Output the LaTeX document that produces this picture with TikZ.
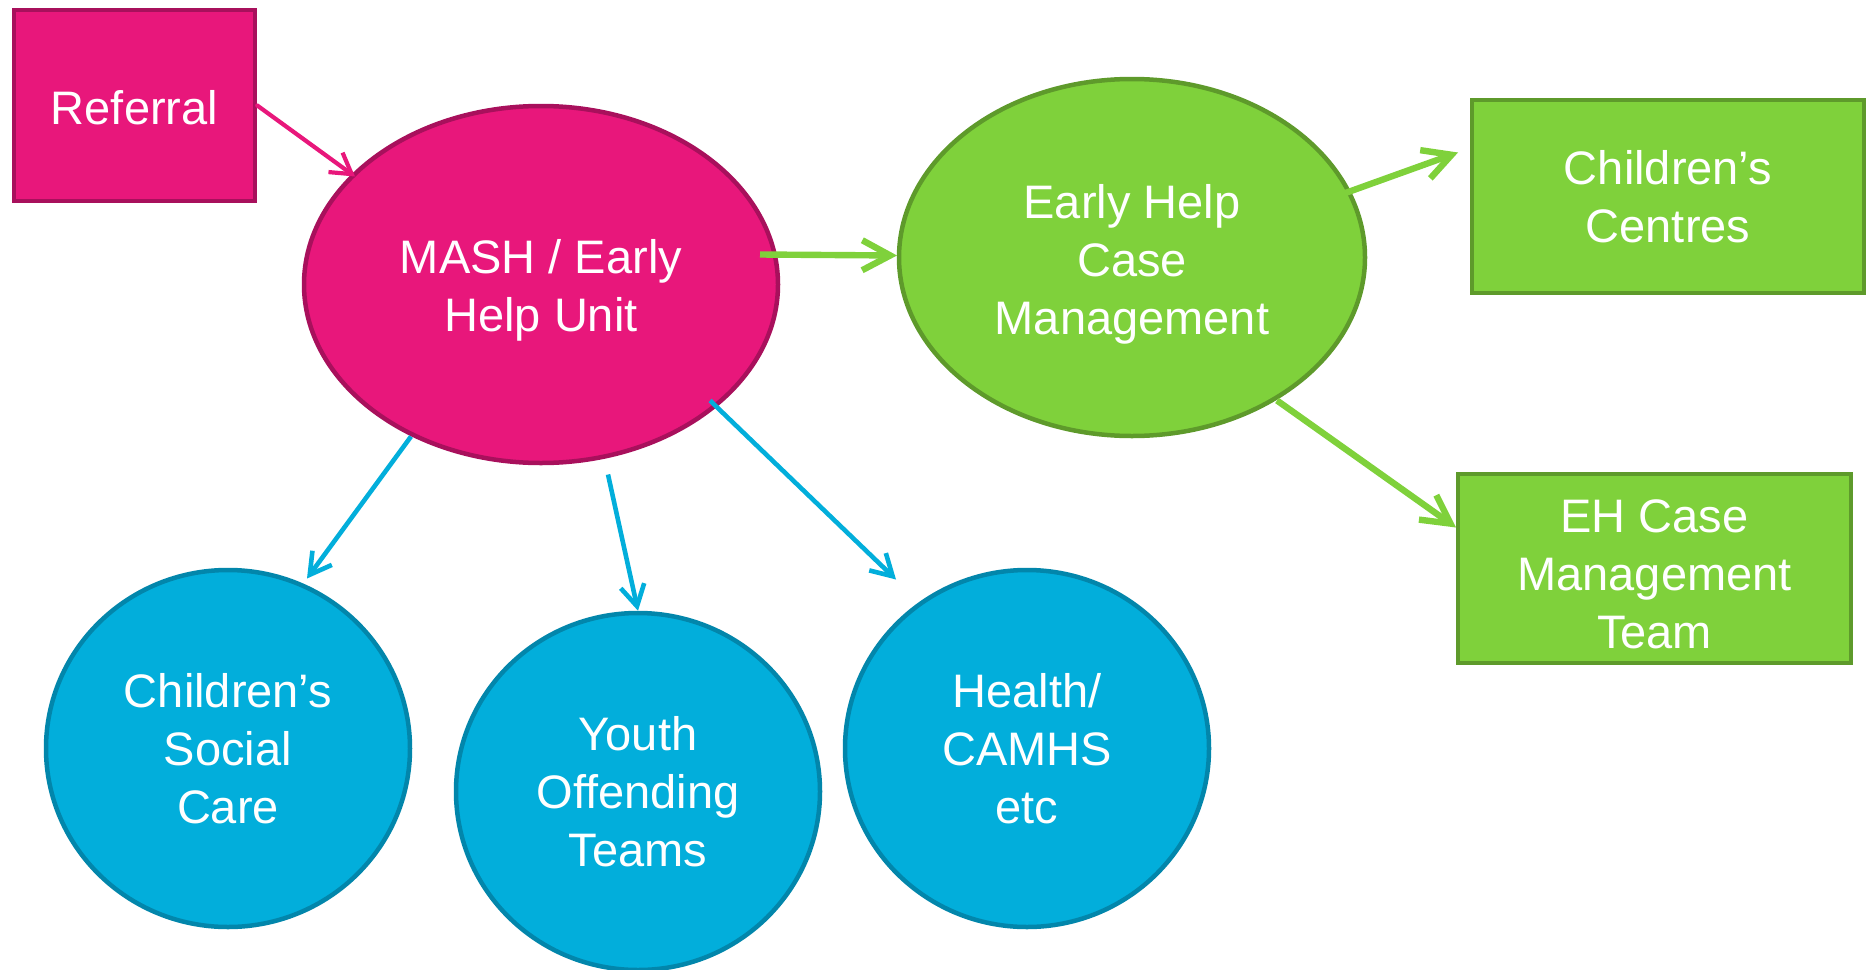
\documentclass[tikz,border=0pt]{standalone}
\usepackage{fontspec}
\setmainfont{Liberation Sans}
\usetikzlibrary{shapes.geometric,arrows.meta,calc}
\definecolor{pinkfill}{HTML}{E8177B}
\definecolor{pinkline}{HTML}{A8105C}
\definecolor{greenfill}{HTML}{7FD13B}
\definecolor{greenline}{HTML}{5E9A2B}
\definecolor{bluefill}{HTML}{02AEDB}
\definecolor{blueline}{HTML}{0286AB}
\newcommand\tshift[1]{\rule{0pt}{#1}}
\tikzset{
  lbl/.style={text=white,align=center,inner sep=0pt,font=\fontsize{23.5pt}{29pt}\selectfont},
  pinkbox/.style={lbl,rectangle,fill=pinkfill,draw=pinkline,line width=2.25pt},
  pinkoval/.style={lbl,ellipse,fill=pinkfill,draw=pinkline,line width=2.25pt},
  greenbox/.style={lbl,rectangle,fill=greenfill,draw=greenline,line width=2.25pt},
  greenoval/.style={lbl,ellipse,fill=greenfill,draw=greenline,line width=2.25pt},
  blueoval/.style={lbl,ellipse,fill=bluefill,draw=blueline,line width=2.25pt,minimum width=182pt,minimum height=178.5pt},
  pinkarrow/.style={draw=pinkfill,line width=2.1pt,line cap=round,-{Straight Barb[length=10pt,width=12pt]}},
  greenarrow/.style={draw=greenfill,line width=3.2pt,-{Straight Barb[length=14pt,width=15pt]}},
  bluearrow/.style={draw=bluefill,line width=2.3pt,-{Straight Barb[length=10.5pt,width=12pt]}},
}
\begin{document}
\begin{tikzpicture}[x=0.5pt,y=-0.5pt]
\useasboundingbox (0,0) rectangle (1868,969);
\node[pinkbox,minimum width=120.5pt,minimum height=95.5pt] (ref) at (134.5,105.5) {\tshift{19.5pt}Referral};
\node[pinkoval,minimum width=237pt,minimum height=178.5pt] (mash) at (541,284.5) {\tshift{23.1pt}MASH / Early\\Help Unit};
\node[greenoval,minimum width=233pt,minimum height=178.5pt] (eh) at (1132,257.5) {\tshift{24.1pt}Early Help\\Case\\Management};
\node[greenbox,minimum width=196pt,minimum height=96.5pt] (cc) at (1668,196.5) {Children’s\\Centres};
\node[greenbox,minimum width=196.5pt,minimum height=94.5pt] (ehcm) at (1654.5,568.5) {\tshift{22.1pt}EH Case\\Management\\Team};
\node[blueoval] (csc) at (228,748.5) {Children’s\\Social\\Care};
\node[blueoval] (yot) at (638,791.5) {Youth\\Offending\\Teams};
\node[blueoval] (health) at (1027,748.5) {Health/\\CAMHS\\etc};

\draw[pinkarrow] (ref.east) -- ($(mash)+(-186,-108)$);
\draw[greenarrow] ($(mash)+(219,-30)$) -- ($(eh)+(-235,-2)$);
\draw[greenarrow] ($(eh)+(212,-64)$) -- ($(cc)+(-210,-44)$);
\draw[greenarrow] ($(eh)+(145,143)$) -- ($(ehcm)+(-198.5,-41)$);
\draw[bluearrow] ($(mash)+(-130,152)$) -- ($(csc)+(79,-170)$);
\draw[bluearrow] ($(mash)+(67,190)$) -- (yot.north);
\draw[bluearrow] ($(mash)+(169,116)$) -- ($(health)+(-131,-169)$);
\end{tikzpicture}
\end{document}
